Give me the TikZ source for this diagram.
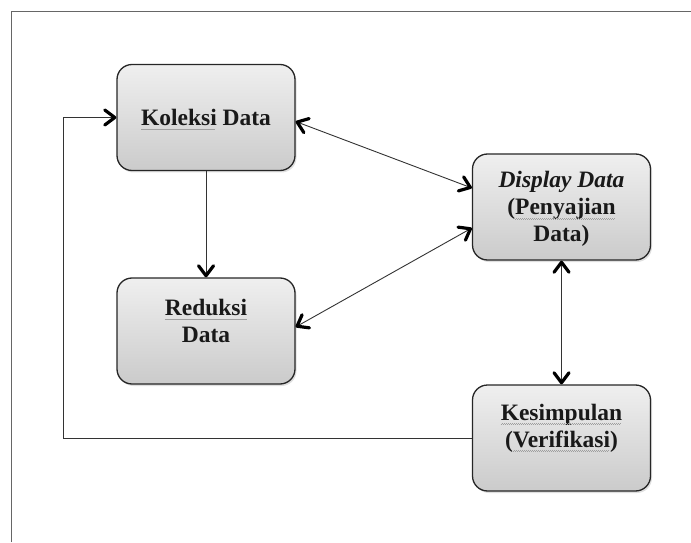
\documentclass[tikz,border=0pt]{standalone}
\usepackage{fontspec}
\setmainfont{Liberation Serif}
\usetikzlibrary{arrows.meta,shadows}
\newsavebox\squigbox
\newcommand\squig[1]{\sbox\squigbox{#1}\rlap{\usebox\squigbox}\raisebox{-4.5pt}[0pt][0pt]{\color{gray!75}\leaders\hbox to 2pt{\rule{1pt}{0.6pt}\rule[0.7pt]{1pt}{0.6pt}}\hskip\wd\squigbox}}
\definecolor{boxtop}{HTML}{EFEFEF}
\definecolor{boxbot}{HTML}{CBCBCB}
\tikzset{
  procbox/.style={draw=black!85, line width=1.3pt, rounded corners=15pt,
    minimum width=178pt, minimum height=106pt, top color=boxtop, bottom color=boxbot,
    drop shadow={shadow xshift=1.5pt, shadow yshift=-2pt, opacity=0.25}},
  boxtext/.style={align=center, font=\bfseries\fontsize{23.5}{27}\selectfont, text=black!90, inner sep=0pt},
  conn/.style={draw=black!80, line width=0.9pt},
  tip/.tip={Straight Barb[length=10pt,width=15pt,line width=3.2pt,round,color=black]},
  arr/.style={conn, -tip},
  darr/.style={conn, tip-tip},
  frame/.style={draw=black!60, line width=1pt}
}
\begin{document}
\begin{tikzpicture}[x=1pt,y=1pt]
\useasboundingbox (0,0) rectangle (691,542);
% frame
\coordinate (f1) at (11,0);
\coordinate (f2) at (11,530);
\coordinate (f3) at (691,530);
\draw[frame] (f1) -- (f2) -- (f3);
% boxes
\node[procbox] (kol) at (206,424.5) {};
\node[procbox] (red) at (206,211) {};
\node[procbox] (dis) at (561.5,335) {};
\node[procbox] (kes) at (561.5,104) {};
% texts
\node[boxtext] (tkol) at (206,424.5) {\squig{Koleksi} Data};
\node[boxtext] (tred) at (206,221) {\squig{Reduksi}\\Data};
\node[boxtext] (tdis) at (561.5,333) {\textit{Display Data}\\(\squig{Penyajian}\\Data)};
\node[boxtext] (tkes) at (561.5,114) {\squig{Kesimpulan}\\(\squig{Verifikasi})};
% connectors
\draw[arr] (kol.south) -- (red.north);
\draw[darr] ([yshift=-4pt]kol.east) -- ([yshift=19pt]dis.west);
\draw[darr] ([yshift=4pt]red.east) -- ([yshift=-21pt]dis.west);
\draw[darr] (dis.south) -- (kes.north);
\coordinate (c1) at (63,104);
\coordinate (c2) at (63,424.5);
\draw[arr] (kes.west) -- (c1) -- (c2) -- (kol.west);
\end{tikzpicture}
\end{document}
